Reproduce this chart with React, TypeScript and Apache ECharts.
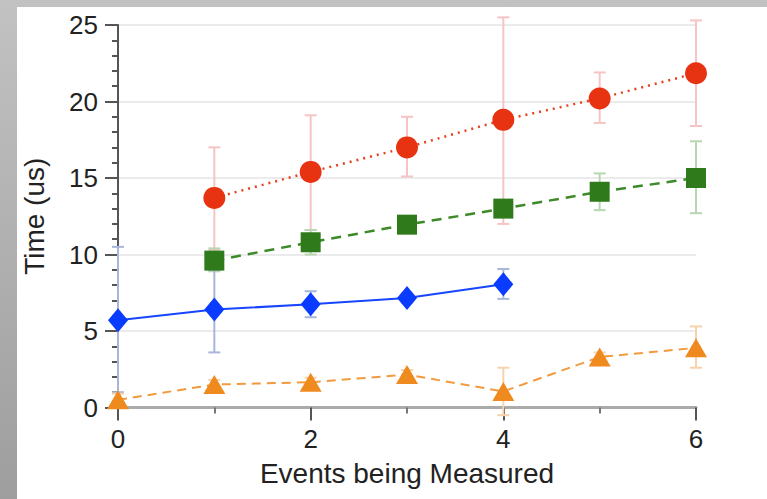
import React, { useEffect, useRef } from "react";
import * as echarts from "echarts";

// ---- data ----
const redX = [1, 2, 3, 4, 5, 6];
const redY = [13.7, 15.4, 17.0, 18.8, 20.2, 21.85];
const redLo = [10.3, 11.6, 15.1, 12.0, 18.6, 18.4];
const redHi = [17.0, 19.1, 19.0, 25.5, 21.9, 25.3];

const greenX = [1, 2, 3, 4, 5, 6];
const greenY = [9.6, 10.8, 11.95, 13.0, 14.1, 15.0];
const greenLo = [8.9, 10.0, 11.4, 12.6, 12.9, 12.7];
const greenHi = [10.4, 11.6, 12.5, 13.4, 15.3, 17.4];

const blueX = [0, 1, 2, 3, 4];
const blueY = [5.7, 6.4, 6.75, 7.15, 8.05];
const blueLo = [1.0, 3.6, 5.9, 6.85, 7.1];
const blueHi = [10.5, 9.0, 7.6, 7.45, 9.05];

const orangeX = [0, 1, 2, 3, 4, 5, 6];
const orangeY = [0.5, 1.5, 1.65, 2.15, 1.05, 3.3, 3.9];
const orangeLo = [0.1, 1.2, 1.35, 1.85, -0.5, 3.0, 2.6];
const orangeHi = [0.9, 1.8, 1.95, 2.45, 2.6, 3.6, 5.3];

const xTitle = "Events being Measured";
const yTitle = "Time (us)";

const FONT = "'Liberation Sans Narrow', 'Liberation Sans', Arial, sans-serif";

function pts(xs: number[], ys: number[]) {
  return xs.map((x, i) => [x, ys[i]]);
}
function errs(xs: number[], lo: number[], hi: number[]) {
  return xs.map((x, i) => [x, lo[i], hi[i]]);
}

function errorSeries(data: number[][], color: string) {
  return {
    type: "custom",
    data,
    encode: { x: 0, y: [1, 2] },
    z: 1,
    clip: false,
    renderItem: (params: any, api: any) => {
      const x = api.value(0);
      const lo = api.coord([x, api.value(1)]);
      const hi = api.coord([x, api.value(2)]);
      const w = 6;
      const style = { stroke: color, lineWidth: 2 };
      return {
        type: "group",
        children: [
          { type: "line", shape: { x1: lo[0], y1: lo[1], x2: hi[0], y2: hi[1] }, style },
          { type: "line", shape: { x1: hi[0] - w, y1: hi[1], x2: hi[0] + w, y2: hi[1] }, style },
          { type: "line", shape: { x1: lo[0] - w, y1: lo[1], x2: lo[0] + w, y2: lo[1] }, style },
        ],
      };
    },
  };
}

export default function App() {
  const ref = useRef<HTMLDivElement>(null);
  useEffect(() => {
    if (!ref.current) return;
    const chart = echarts.init(ref.current, null, { renderer: "svg" });
    chart.setOption({
      animation: false,
      backgroundColor: "transparent",
      grid: { left: 118, right: 71, top: 25, bottom: 91.5, containLabel: false },
      xAxis: {
        type: "value",
        min: 0,
        max: 6,
        interval: 2,
        name: xTitle,
        nameLocation: "middle",
        nameGap: 52,
        nameTextStyle: { fontFamily: FONT, fontSize: 28, color: "#222" },
        axisLine: { show: true, onZero: false, lineStyle: { color: "#aaaaaa", width: 3 } },
        axisTick: { show: true, length: 13, lineStyle: { color: "#555", width: 2 } },
        minorTick: { show: true, splitNumber: 2, length: 6, lineStyle: { color: "#777", width: 2 } },
        axisLabel: { margin: 18, fontFamily: FONT, fontSize: 26, color: "#222" },
        splitLine: { show: false },
      },
      yAxis: {
        type: "value",
        min: 0,
        max: 25,
        interval: 5,
        name: yTitle,
        nameLocation: "middle",
        nameGap: 70,
        nameRotate: 90,
        nameTextStyle: { fontFamily: FONT, fontSize: 28, color: "#222" },
        axisLine: { show: true, lineStyle: { color: "#555", width: 2 } },
        axisTick: { show: true, length: 13, lineStyle: { color: "#555", width: 2 } },
        minorTick: { show: true, splitNumber: 5, length: 6, lineStyle: { color: "#555", width: 2 } },
        axisLabel: { margin: 20, fontFamily: FONT, fontSize: 26, color: "#222" },
        splitLine: { show: true, lineStyle: { color: "#ebebeb", width: 2 } },
      },
      series: [
        errorSeries(errs(redX, redLo, redHi), "#f6c4c4"),
        errorSeries(errs(greenX, greenLo, greenHi), "#b9d6b2"),
        errorSeries(errs(blueX, blueLo, blueHi), "#a9b6da"),
        errorSeries(errs(orangeX, orangeLo, orangeHi), "#f6d2ad"),
        {
          type: "line",
          data: pts(orangeX, orangeY),
          z: 3,
          symbol: "triangle",
          symbolSize: [22, 19],
          itemStyle: { color: "#ef8a1e" },
          lineStyle: { color: "#f29a3e", width: 2, type: [9, 6] },
        },
        {
          type: "line",
          data: pts(blueX, blueY),
          z: 3,
          symbol: "diamond",
          symbolSize: [20, 24],
          itemStyle: { color: "#0a3cff" },
          lineStyle: { color: "#1846ff", width: 2, type: "solid" },
        },
        {
          type: "line",
          data: pts(greenX, greenY),
          z: 3,
          symbol: "rect",
          symbolSize: 20,
          itemStyle: { color: "#2f7a1a" },
          lineStyle: { color: "#3c8a28", width: 2.5, type: [10, 7] },
        },
        {
          type: "line",
          data: pts(redX, redY),
          z: 3,
          symbol: "circle",
          symbolSize: 22,
          itemStyle: { color: "#e83312" },
          lineStyle: { color: "#e8401e", width: 2.5, type: [2, 5] },
        },
      ],
    });
    return () => chart.dispose();
  }, []);

  return (
    <div
      style={{
        position: "fixed",
        left: 0,
        top: 0,
        width: 767,
        height: 499,
        background: "linear-gradient(to bottom, #c2c2c2, #9e9e9e)",
        overflow: "hidden",
      }}
    >
      <div style={{ position: "absolute", left: 17, top: 7, width: 750, height: 492, background: "#ffffff" }} />
      <div ref={ref} style={{ position: "absolute", left: 0, top: 0, width: 767, height: 499 }} />
    </div>
  );
}
